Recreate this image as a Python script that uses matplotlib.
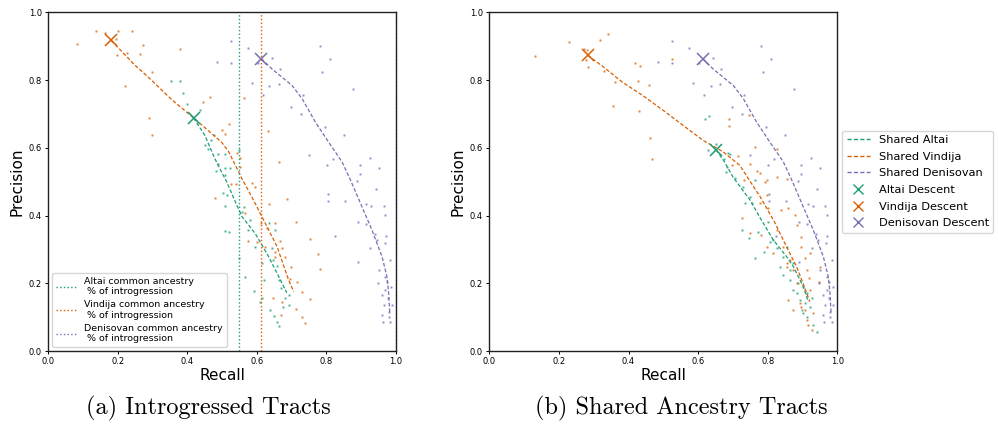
import numpy as np
import matplotlib
matplotlib.use("Agg")
import matplotlib.pyplot as plt
from matplotlib.lines import Line2D

# ---------------- data ----------------
C_ALT, C_VIN, C_DEN = "#1b9e77", "#d95f02", "#7570b3"

# (a) Introgressed tracts: curves
alt_curve_a_x = [0.418, 0.45, 0.479, 0.5, 0.513, 0.538, 0.557, 0.595, 0.634, 0.663, 0.686]
alt_curve_a_y = [0.688, 0.637, 0.568, 0.525, 0.5, 0.44, 0.397, 0.347, 0.278, 0.219, 0.172]
vin_curve_a_x = [0.181, 0.248, 0.287, 0.354, 0.418, 0.498, 0.519, 0.557, 0.595, 0.624, 0.658, 0.691, 0.706]
vin_curve_a_y = [0.917, 0.845, 0.809, 0.743, 0.688, 0.617, 0.588, 0.509, 0.436, 0.377, 0.308, 0.21, 0.175]
den_curve_x = [0.613, 0.643, 0.701, 0.73, 0.768, 0.806, 0.845, 0.869, 0.902, 0.931, 0.96, 0.974, 0.979, 0.982]
den_curve_y = [0.863, 0.833, 0.784, 0.745, 0.676, 0.617, 0.558, 0.505, 0.426, 0.357, 0.278, 0.219, 0.17, 0.11]

# (b) Shared ancestry tracts: curves
alt_curve_b_x = [0.652, 0.676, 0.7, 0.749, 0.78, 0.816, 0.854, 0.874, 0.902, 0.917]
alt_curve_b_y = [0.594, 0.558, 0.514, 0.446, 0.39, 0.328, 0.279, 0.249, 0.19, 0.145]
vin_curve_b_x = [0.283, 0.325, 0.382, 0.44, 0.499, 0.557, 0.614, 0.672, 0.72, 0.75, 0.778, 0.82, 0.854, 0.883, 0.905, 0.921]
vin_curve_b_y = [0.873, 0.841, 0.794, 0.755, 0.711, 0.666, 0.622, 0.588, 0.548, 0.5, 0.456, 0.38, 0.308, 0.249, 0.19, 0.146]

# descent markers (x, y)
alt_desc_a = (0.418, 0.688)
vin_desc_a = (0.181, 0.917)
den_desc = (0.613, 0.863)
alt_desc_b = (0.652, 0.594)
vin_desc_b = (0.283, 0.873)

# "common ancestry % of introgression" vertical lines (panel a)
alt_pct = 0.549
vin_pct = 0.613
den_pct = 1.0

# scatter points (x, y)
vin_pts_a = [(0.083,0.906),(0.138,0.944),(0.162,0.938),(0.2,0.945),(0.241,0.946),(0.196,0.922),(0.198,0.873),
             (0.226,0.881),(0.264,0.876),(0.272,0.903),(0.38,0.892),(0.297,0.824),(0.22,0.783),(0.289,0.687),
             (0.298,0.639),(0.445,0.734),(0.464,0.751),(0.5,0.652),(0.562,0.747),(0.632,0.65),(0.663,0.558),
             (0.519,0.669),(0.507,0.641),(0.542,0.585),(0.552,0.57),(0.552,0.543),(0.526,0.493),(0.54,0.493),
             (0.586,0.495),(0.595,0.483),(0.634,0.433),(0.687,0.448),(0.712,0.382),(0.752,0.332),(0.775,0.287),
             (0.781,0.243),(0.651,0.379),(0.667,0.325),(0.672,0.304),(0.651,0.293),(0.653,0.277),(0.682,0.277),
             (0.699,0.249),(0.696,0.213),(0.715,0.205),(0.73,0.175),(0.752,0.154),(0.646,0.156),(0.672,0.146),
             (0.712,0.123),(0.73,0.101),(0.739,0.082),(0.669,0.106),(0.6,0.323),(0.613,0.379),(0.574,0.325),
             (0.567,0.407),(0.629,0.362),(0.622,0.308),(0.479,0.453)]
alt_pts_a = [(0.352,0.798),(0.379,0.798),(0.386,0.763),(0.399,0.729),(0.437,0.712),(0.45,0.609),(0.469,0.622),
             (0.476,0.637),(0.489,0.583),(0.483,0.531),(0.488,0.553),(0.459,0.597),(0.507,0.583),(0.509,0.541),
             (0.523,0.541),(0.507,0.52),(0.548,0.594),(0.507,0.428),(0.502,0.466),(0.513,0.461),(0.521,0.352),
             (0.507,0.355),(0.562,0.426),(0.565,0.219),(0.548,0.274),(0.591,0.178),(0.61,0.146),(0.638,0.121),
             (0.648,0.103),(0.664,0.075),(0.658,0.087),(0.675,0.131),(0.691,0.136),(0.682,0.156),(0.645,0.269),
             (0.634,0.379),(0.653,0.357),(0.643,0.303),(0.658,0.251),(0.663,0.21),(0.691,0.165),(0.67,0.185),
             (0.581,0.387),(0.595,0.308),(0.615,0.259),(0.62,0.21),(0.615,0.156),(0.574,0.357),(0.557,0.411)]
den_pts = [(0.485,0.853),(0.525,0.915),(0.525,0.851),(0.574,0.894),(0.603,0.851),(0.643,0.866),(0.666,0.834),
           (0.585,0.791),(0.636,0.783),(0.663,0.789),(0.617,0.757),(0.781,0.9),(0.809,0.863),(0.787,0.824),
           (0.876,0.774),(0.733,0.757),(0.697,0.72),(0.726,0.701),(0.795,0.661),(0.851,0.637),(0.749,0.578),
           (0.819,0.568),(0.802,0.548),(0.896,0.55),(0.925,0.571),(0.95,0.54),(0.897,0.522),(0.804,0.464),
           (0.804,0.444),(0.888,0.501),(0.943,0.479),(0.852,0.444),(0.891,0.382),(0.825,0.34),(0.891,0.263),
           (0.915,0.434),(0.929,0.428),(0.965,0.428),(0.969,0.402),(0.914,0.375),(0.939,0.345),(0.926,0.303),
           (0.945,0.328),(0.971,0.34),(0.968,0.318),(0.984,0.269),(0.95,0.239),(0.969,0.219),(0.948,0.2),
           (0.96,0.165),(0.969,0.18),(0.977,0.156),(0.965,0.136),(0.989,0.136),(0.96,0.106),(0.979,0.101),
           (0.962,0.087),(0.984,0.087),(0.975,0.205),(0.987,0.19),(0.979,0.116)]
vin_pts_b = [(0.131,0.87),(0.229,0.913),(0.318,0.918),(0.34,0.936),(0.272,0.893),(0.28,0.889),(0.277,0.858),
             (0.283,0.838),(0.33,0.826),(0.361,0.794),(0.356,0.723),(0.418,0.851),(0.434,0.841),(0.426,0.797),
             (0.46,0.785),(0.43,0.708),(0.462,0.63),(0.467,0.568),(0.524,0.863),(0.688,0.685),(0.69,0.664),
             (0.746,0.698),(0.763,0.603),(0.715,0.576),(0.698,0.548),(0.748,0.553),(0.769,0.531),(0.826,0.597),
             (0.798,0.504),(0.856,0.509),(0.732,0.504),(0.725,0.392),(0.749,0.347),(0.778,0.436),(0.792,0.5),
             (0.778,0.525),(0.797,0.461),(0.802,0.421),(0.826,0.515),(0.837,0.416),(0.859,0.421),(0.782,0.343),
             (0.797,0.308),(0.826,0.357),(0.816,0.288),(0.845,0.308),(0.854,0.259),(0.864,0.269),(0.874,0.239),
             (0.854,0.249),(0.883,0.2),(0.897,0.338),(0.897,0.308),(0.878,0.402),(0.883,0.372),(0.907,0.274),
             (0.912,0.239),(0.893,0.141),(0.897,0.131),(0.907,0.121),(0.912,0.092),(0.926,0.062),(0.917,0.077),
             (0.931,0.111),(0.921,0.18),(0.921,0.288),(0.95,0.249),(0.948,0.205),(0.92,0.215),(0.859,0.151),
             (0.874,0.121)]
alt_pts_b = [(0.619,0.685),(0.63,0.694),(0.628,0.594),(0.65,0.611),(0.686,0.585),(0.693,0.583),(0.674,0.568),
             (0.684,0.543),(0.681,0.528),(0.705,0.512),(0.763,0.504),(0.73,0.485),(0.735,0.436),(0.754,0.436),
             (0.749,0.456),(0.725,0.357),(0.747,0.333),(0.763,0.274),(0.773,0.352),(0.789,0.293),(0.807,0.323),
             (0.816,0.328),(0.826,0.303),(0.835,0.249),(0.845,0.279),(0.854,0.308),(0.845,0.224),(0.864,0.21),
             (0.874,0.259),(0.883,0.17),(0.893,0.151),(0.902,0.19),(0.912,0.17),(0.898,0.121),(0.912,0.101),
             (0.921,0.131),(0.931,0.077),(0.941,0.057),(0.926,0.156),(0.864,0.239),(0.874,0.18),(0.888,0.2),
             (0.802,0.382),(0.907,0.141),(0.902,0.111)]

ticks = [0.0, 0.2, 0.4, 0.6, 0.8, 1.0]

# ---------------- figure ----------------
fig = plt.figure(figsize=(9.98, 4.29), dpi=100)
ax1 = fig.add_axes([0.0484, 0.1818, 0.3484, 0.7895])
ax2 = fig.add_axes([0.4903, 0.1818, 0.3487, 0.7895])

DASH = (0, (3, 1.6))

def scatter(ax, pts, color):
    p = np.array(pts)
    ax.plot(p[:, 0], p[:, 1], linestyle="none", marker="s", markersize=1.4,
            markeredgewidth=0, color=color, alpha=0.8)

def style(ax):
    ax.set_xlim(0, 1)
    ax.set_ylim(0, 1)
    ax.set_xticks(ticks)
    ax.set_yticks(ticks)
    ax.set_xticklabels([f"{t:.1f}" for t in ticks])
    ax.set_yticklabels([f"{t:.1f}" for t in ticks])
    ax.tick_params(labelsize=6, length=2.5, width=0.7, pad=2)
    ax.set_xlabel("Recall", fontsize=11, labelpad=1)
    ax.set_ylabel("Precision", fontsize=11, labelpad=3)
    for s in ax.spines.values():
        s.set_linewidth(1.0)
        s.set_color("#222222")

# panel a
scatter(ax1, alt_pts_a, C_ALT)
scatter(ax1, vin_pts_a, C_VIN)
scatter(ax1, den_pts, C_DEN)
ax1.plot(alt_curve_a_x, alt_curve_a_y, linestyle=DASH, lw=0.9, color=C_ALT)
ax1.plot(vin_curve_a_x, vin_curve_a_y, linestyle=DASH, lw=0.9, color=C_VIN)
ax1.plot(den_curve_x, den_curve_y, linestyle=DASH, lw=0.9, color=C_DEN)
ax1.plot(*alt_desc_a, marker="x", ms=8, mew=1.1, color=C_ALT, linestyle="none")
ax1.plot(*vin_desc_a, marker="x", ms=8, mew=1.1, color=C_VIN, linestyle="none")
ax1.plot(*den_desc, marker="x", ms=8, mew=1.1, color=C_DEN, linestyle="none")
l1 = ax1.axvline(alt_pct, color=C_ALT, linestyle=":", lw=1.0)
l2 = ax1.axvline(vin_pct, color=C_VIN, linestyle=":", lw=1.0)
l3 = ax1.axvline(den_pct, color=C_DEN, linestyle=":", lw=1.0)
style(ax1)
ax1.legend([l1, l2, l3],
           ["Altai common ancestry\n % of introgression",
            "Vindija common ancestry\n % of introgression",
            "Denisovan common ancestry\n % of introgression"],
           loc="lower left", fontsize=6.8, handlelength=2.2, borderaxespad=0.4,
           labelspacing=0.45, frameon=True)

# panel b
scatter(ax2, alt_pts_b, C_ALT)
scatter(ax2, vin_pts_b, C_VIN)
scatter(ax2, den_pts, C_DEN)
ax2.plot(alt_curve_b_x, alt_curve_b_y, linestyle=DASH, lw=0.9, color=C_ALT)
ax2.plot(vin_curve_b_x, vin_curve_b_y, linestyle=DASH, lw=0.9, color=C_VIN)
ax2.plot(den_curve_x, den_curve_y, linestyle=DASH, lw=0.9, color=C_DEN)
ax2.plot(*alt_desc_b, marker="x", ms=8, mew=1.1, color=C_ALT, linestyle="none")
ax2.plot(*vin_desc_b, marker="x", ms=8, mew=1.1, color=C_VIN, linestyle="none")
ax2.plot(*den_desc, marker="x", ms=8, mew=1.1, color=C_DEN, linestyle="none")
style(ax2)
h_l = [Line2D([], [], color=c, linestyle=(0, (3, 1.6)), lw=1.0) for c in (C_ALT, C_VIN, C_DEN)]
m_l = [Line2D([], [], color=c, marker="x", linestyle="none", ms=7, mew=1.0) for c in (C_ALT, C_VIN, C_DEN)]
ax2.legend(h_l + m_l,
           ["Shared Altai", "Shared Vindija", "Shared Denisovan",
            "Altai Descent", "Vindija Descent", "Denisovan Descent"],
           loc="center left", bbox_to_anchor=(1.014, 0.5), fontsize=8.2,
           handlelength=2.0, labelspacing=0.58, borderaxespad=0.0, frameon=True)

# captions
fig.text(0.209, 0.047, "(a) Introgressed Tracts", fontsize=17.5, family="cmr10",
         ha="center", va="center")
fig.text(0.683, 0.047, "(b) Shared Ancestry Tracts", fontsize=17.5, family="cmr10",
         ha="center", va="center")

fig.savefig("out.png", dpi=100)
